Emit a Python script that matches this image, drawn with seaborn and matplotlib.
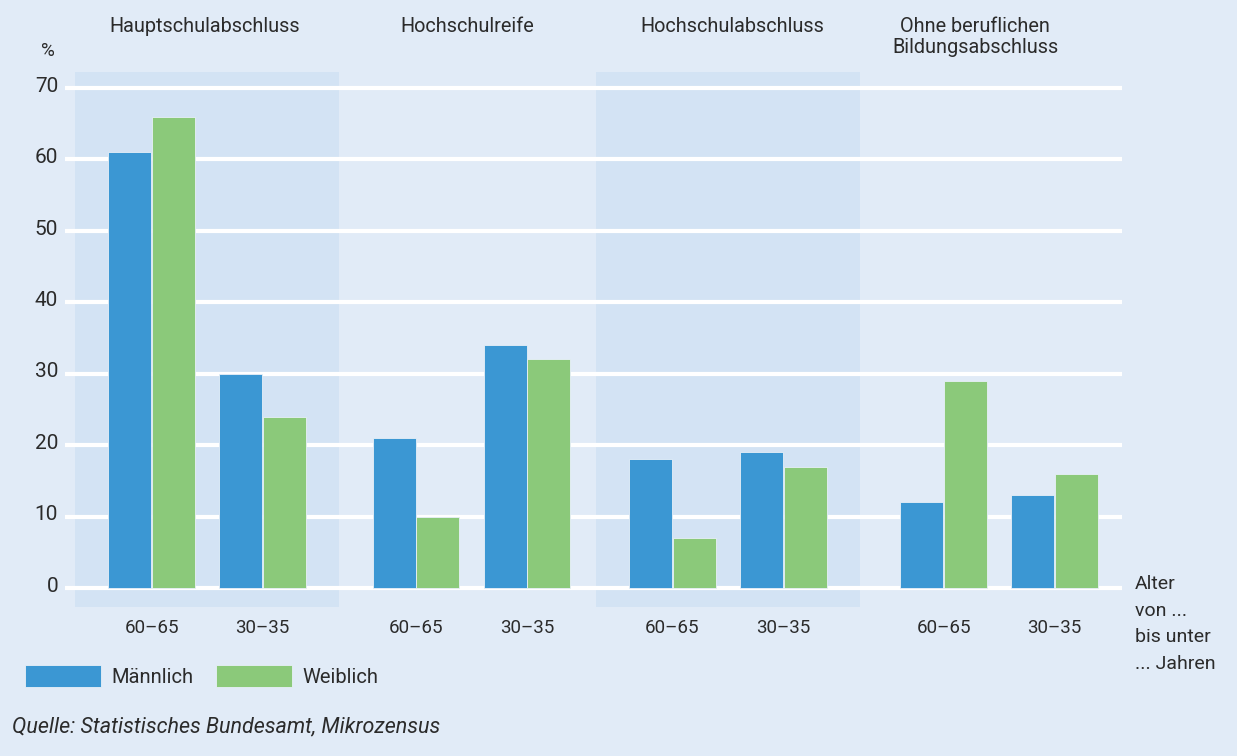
import matplotlib
matplotlib.use("Agg")
import matplotlib.pyplot as plt
from matplotlib.patches import Rectangle
import seaborn as sns
import pandas as pd
import numpy as np

# ---- data ----
groups = ["Hauptschulabschluss", "Hochschulreife", "Hochschulabschluss",
          "Ohne beruflichen\nBildungsabschluss"]
ages = ["60–65", "30–35"]
maennlich = [61, 30, 21, 34, 18, 19, 12, 13]
weiblich = [66, 24, 10, 32, 7, 17, 29, 16]
yticks = [0, 10, 20, 30, 40, 50, 60, 70]
source = "Quelle: Statistisches Bundesamt, Mikrozensus"
age_note = "Alter\nvon ...\nbis unter\n... Jahren"

# ---- layout (pixel based) ----
W, H = 1237, 756
group_centers = [207, 471.5, 728, 999]
title_centers = [205, 467, 732, 975]
age_offset = 55.5
px_per_unit = 500 / 70.0
y0_px = H - 588  # pixel height of value 0 from bottom

BG = "#e1ebf7"
BAND = "#d3e3f4"
BLUE = "#3b97d3"
GREEN = "#8bc97a"
TXT = "#2b2b2b"

rows = []
for gi, g in enumerate(groups):
    for ai, a in enumerate(ages):
        k = gi * 2 + ai
        pos = group_centers[gi] + (ai - 0.5) * 2 * age_offset
        rows.append({"pos": pos, "Geschlecht": "Männlich", "Wert": maennlich[k]})
        rows.append({"pos": pos, "Geschlecht": "Weiblich", "Wert": weiblich[k]})
df = pd.DataFrame(rows)

sns.set_style("white")
plt.rcParams["font.family"] = ["Roboto", "DejaVu Sans"]

fig = plt.figure(figsize=(W / 100, H / 100), dpi=100, facecolor=BG)
ax = fig.add_axes([0, 0, 1, 1])
ax.set_facecolor(BG)
ax.set_xlim(0, W)
ax.set_ylim(-y0_px / px_per_unit, (H - y0_px) / px_per_unit)

def yv(px_from_top):
    return (H - px_from_top - y0_px) / px_per_unit

# bands for group 1 and 3
for gi in (0, 2):
    ax.add_patch(Rectangle((group_centers[gi] - 132, yv(607)), 264, yv(72) - yv(607),
                           facecolor=BAND, edgecolor="none", zorder=0))

# gridlines
ax.hlines(yticks, 65, 1122, colors="white", linewidth=3.0, zorder=1)

sns.barplot(data=df, x="pos", y="Wert", hue="Geschlecht", native_scale=True,
            hue_order=["Männlich", "Weiblich"], palette=[BLUE, GREEN],
            saturation=1, width=0.785, gap=0.02, edgecolor="#e8f0f8",
            linewidth=0.6, ax=ax, zorder=2, legend=True)

ax.set_xlim(0, W)
ax.set_ylim(-y0_px / px_per_unit, (H - y0_px) / px_per_unit)
ax.axis("off")

# y tick labels
for t in yticks:
    ax.text(58, t + 0.25, str(t), ha="right", va="center", fontsize=15, color=TXT)
ax.text(48, yv(51), "%", ha="center", va="center", fontsize=13.5, color=TXT)

# group titles
for gi, g in enumerate(groups):
    ax.text(title_centers[gi], yv(17), g, ha="center", va="top", fontsize=14.3,
            color=TXT, linespacing=1.15)

# age labels
for gi in range(len(groups)):
    for ai, a in enumerate(ages):
        pos = group_centers[gi] + (ai - 0.5) * 2 * age_offset
        ax.text(pos, yv(628), a, ha="center", va="center", fontsize=13.5, color=TXT)

ax.text(1135, yv(575), age_note, ha="left", va="top", fontsize=14, color=TXT,
        linespacing=1.62)

ax.text(12, yv(727), source, ha="left", va="center", fontsize=15.5, color=TXT,
        style="italic")

# legend
handles, labels = ax.get_legend_handles_labels()
leg = ax.legend(handles, labels, loc="center left",
                bbox_to_anchor=(7 / W, 1 - 676 / H), ncol=2, frameon=False,
                fontsize=14.5, handlelength=3.75, handleheight=1.25,
                handletextpad=0.55, columnspacing=1.1, labelcolor=TXT)

fig.savefig("out.png", dpi=100, facecolor=BG)
